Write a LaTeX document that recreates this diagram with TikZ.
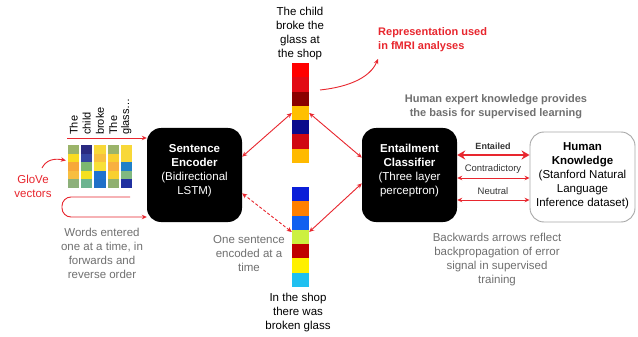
\documentclass[tikz,border=0pt]{standalone}
\usepackage{fontspec}
\setmainfont{Liberation Sans}
\usetikzlibrary{arrows.meta,calc}
\definecolor{myred}{HTML}{E8262E}
\definecolor{mygray}{HTML}{707070}
\definecolor{boxgray}{HTML}{A8A8A8}
\begin{document}
\begin{tikzpicture}[x=1pt,y=-1pt,
  txt/.style={font=\fontsize{11.5}{14}\selectfont, align=center, inner sep=0pt},
  graytxt/.style={txt, text=mygray},
  blackbox/.style={fill=black, rounded corners=14pt, minimum width=95pt, minimum height=94pt, inner sep=0pt},
  whitebox/.style={draw=boxgray, line width=0.9pt, fill=white, rounded corners=14pt, minimum width=105pt, minimum height=90pt, inner sep=0pt},
  barbox/.style={minimum width=17pt, minimum height=100pt, inner sep=0pt},
  redline/.style={draw=myred, line width=0.9pt},
  oneway/.style={redline, -{Stealth[length=5pt,width=4.5pt]}},
  twoway/.style={redline, {Stealth[length=5pt,width=4.5pt]}-{Stealth[length=5pt,width=4.5pt]}},
  lbl/.style={font=\fontsize{9.5}{11}\selectfont, inner sep=0pt, text=black!80},
  word/.style={font=\fontsize{11}{12}\selectfont, rotate=90, anchor=west, inner sep=0pt}
]
\useasboundingbox (0,0) rectangle (638,337);
\fill[white] (0,0) rectangle (638,337);

% ---------- GloVe matrix ----------
\node[minimum width=64pt, minimum height=43pt, inner sep=0pt] (mat) at (100,166.5) {};
\foreach \col [count=\i] in {
  {9BB46A,F9DC22,F7A93A,F8BE40,8DB07A},
  {2A2A80,3444A0,7DB870,F4E020,6CB490},
  {F8D838,F8C040,F8E038,1F72D0,2070C8},
  {9BB46A,F8D030,F8B040,F8D030,90B070},
  {F8D838,F8D838,2080C8,80B880,2030A0}} {
  \foreach \c [count=\j] in \col {
    \definecolor{tmpc}{HTML}{\c}
    \fill[tmpc] ({68+(\i-1)*13.2},{145+(\j-1)*8.6}) rectangle ++(11.2,8.6);
  }
}
\node[word] (w1) at (73.6,135) {The};
\node[word] (w2) at (86.8,135) {child};
\node[word] (w3) at (100,135) {broke};
\node[word] (w4) at (113.2,135) {The};
\node[word] (w5) at (126.4,135) {glass…};

% ---------- boxes ----------
\node[blackbox] (enc) at (194.5,175) {};
\node[txt, text=white] (enctext) at (194.5,171) {\textbf{Sentence}\\\textbf{Encoder}\\(Bidirectional\\LSTM)};
\node[blackbox] (cl) at (409.5,175) {};
\node[txt, text=white] (cltext) at (409.5,171) {\textbf{Entailment}\\\textbf{Classifier}\\(Three layer\\perceptron)};
\node[whitebox] (hk) at (582.5,177) {};
\node[txt] (hktext) at (582.5,176) {\textbf{Human}\\\textbf{Knowledge}\\(Stanford Natural\\Language\\Inference dataset)};

% ---------- bars ----------
\node[barbox] (topbar) at (300.5,113) {};
\foreach \c [count=\i] in {FF0000,E20A14,8B0000,FFC000,0A0A8C,D00812,FFBA00} {
  \definecolor{tmpc}{HTML}{\c}
  \fill[tmpc] (292,{63+(\i-1)*14.2857}) rectangle ++(17,14.2857);
}
\node[barbox] (botbar) at (300.5,237) {};
\foreach \c [count=\i] in {0A1ED8,FF8000,1060F0,CCF040,C00000,FFF000,20C0F0} {
  \definecolor{tmpc}{HTML}{\c}
  \fill[tmpc] (292,{187+(\i-1)*14.2857}) rectangle ++(17,14.2857);
}

% ---------- texts ----------
\node[txt] (toptext) at (300,34) {The child\\broke the\\glass at\\the shop};
\node[txt] (bottext) at (298,312.5) {In the shop\\there was\\broken glass};
\node[graytxt] (onesent) at (249,254) {One sentence\\encoded at a\\time};
\node[graytxt] (words) at (102,253) {Words entered\\one at a time, in\\forwards and\\reverse order};
\node[txt, text=myred] (glove) at (33,186.5) {GloVe\\vectors};
\node[txt, text=myred, align=left, anchor=west, font=\fontsize{11}{14}\selectfont\bfseries] (repr) at (378,40) {Representation used\\in fMRI analyses};
\node[graytxt, font=\fontsize{11}{13.5}\selectfont\bfseries] (expert) at (496,106.5) {Human expert knowledge provides\\the basis for supervised learning};
\node[graytxt] (backw) at (497,259.5) {Backwards arrows reflect\\backpropagation of error\\signal in supervised\\training};

% ---------- connectors ----------
\coordinate (wordstart) at (67,138);
\draw[oneway] (wordstart) -- (enc.west |- wordstart);
\coordinate (loopstart) at (130,197);
\coordinate (loopend) at (62,217);
\draw[oneway, rounded corners=9pt] (loopstart) -| (loopend) -- (enc.west |- loopend);
\coordinate (gstart) at (42,168);
\draw[oneway] (gstart) .. controls (46,160) and (54,158) .. ($(mat.west)+(-2,-6)$);

\draw[twoway] (topbar.west) -- (enc.21);
\draw[twoway, dashed, dash pattern=on 3pt off 2pt] ($(botbar.west)+(0,-5)$) -- (enc.-21);
\draw[twoway] (topbar.east) -- (cl.160);
\draw[twoway] ($(botbar.east)+(0,-5)$) -- (cl.190);

\coordinate (rstart) at (320,90);
\draw[oneway] (rstart) .. controls (348,87) and (370,78) .. (repr.south west |- 0,59) ;

\draw[redline, line width=2.4pt, {Stealth[length=8pt,width=9pt]}-{Stealth[length=8pt,width=9pt]}] (cl.east |- 0,155) -- (hk.west |- 0,155);
\draw[twoway] (cl.east |- 0,178) -- (hk.west |- 0,178);
\draw[twoway] (cl.east |- 0,200) -- (hk.west |- 0,200);
\node[lbl, font=\fontsize{9}{11}\selectfont\bfseries] (ent) at (493,146.5) {Entailed};
\node[lbl] (contra) at (493,169.5) {Contradictory};
\node[lbl] (neut) at (493,191.5) {Neutral};
\end{tikzpicture}
\end{document}
